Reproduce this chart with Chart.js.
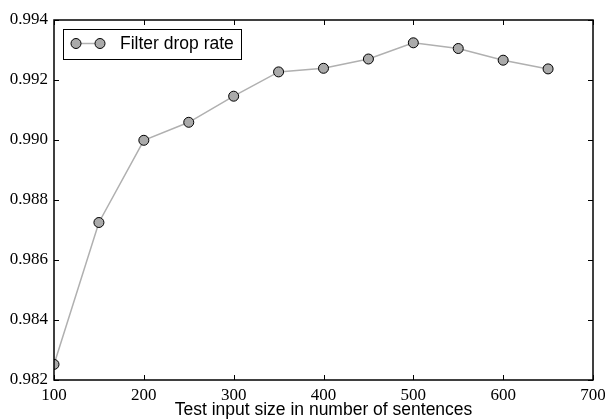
<!DOCTYPE html>
<html>
<head>
<meta charset="utf-8">
<script src="https://cdn.jsdelivr.net/npm/chart.js@4.4.0/dist/chart.umd.min.js"></script>
<style>
	html, body { margin: 0; padding: 0; background: #fff; }
	#wrap { width: 605px; height: 419px; }
</style>
</head>
<body>
<div id="wrap"><canvas id="chart"></canvas></div>
<script>
const sizes = [100, 150, 200, 250, 300, 350, 400, 450, 500, 550, 600, 650];
const dropRate = [0.98252, 0.98725, 0.98999, 0.99059, 0.99146, 0.99227, 0.99239, 0.99270, 0.99324, 0.99305, 0.99266, 0.99237];
const seriesLabel = 'Filter drop rate';
const xTitle = 'Test input size in number of sentences';

const lineGray = '#b0b0b0';
const markerGray = '#aaaaaa';

// frame, inward ticks on all four sides, legend box in the upper left
const framePlugin = {
	id: 'frame',
	afterDraw(chart) {
		const {ctx, chartArea: a, scales} = chart;
		ctx.save();
		ctx.strokeStyle = '#000';
		ctx.lineWidth = 1;
		ctx.beginPath();
		scales.x.ticks.forEach(t => {
			const px = Math.round(scales.x.getPixelForValue(t.value)) + 0.5;
			ctx.moveTo(px, a.bottom); ctx.lineTo(px, a.bottom - 5);
			ctx.moveTo(px, a.top); ctx.lineTo(px, a.top + 5);
		});
		scales.y.ticks.forEach(t => {
			const py = Math.round(scales.y.getPixelForValue(t.value)) + 0.5;
			ctx.moveTo(a.left, py); ctx.lineTo(a.left + 5, py);
			ctx.moveTo(a.right, py); ctx.lineTo(a.right - 5, py);
		});
		ctx.stroke();
		ctx.lineWidth = 1.5;
		ctx.strokeRect(a.left, a.top, a.right - a.left, a.bottom - a.top);

		// legend
		const lx = a.left + 9, ly = a.top + 9, lw = 178, lh = 30;
		ctx.fillStyle = '#fff';
		ctx.fillRect(lx, ly, lw, lh);
		ctx.lineWidth = 1;
		ctx.strokeRect(lx + 0.5, ly + 0.5, lw, lh);
		const cy = ly + 14.5;
		ctx.strokeStyle = lineGray;
		ctx.lineWidth = 1.5;
		ctx.beginPath();
		ctx.moveTo(lx + 13, cy); ctx.lineTo(lx + 37, cy);
		ctx.stroke();
		[lx + 13, lx + 37].forEach(cx => {
			ctx.beginPath();
			ctx.arc(cx, cy, 5, 0, Math.PI * 2);
			ctx.fillStyle = markerGray;
			ctx.fill();
			ctx.strokeStyle = '#000';
			ctx.lineWidth = 1;
			ctx.stroke();
		});
		ctx.fillStyle = '#000';
		ctx.font = '17.5px "Liberation Sans", Arial, sans-serif';
		ctx.textBaseline = 'middle';
		ctx.fillText(seriesLabel, lx + 57, cy + 1);
		ctx.restore();
	}
};

new Chart(document.getElementById('chart'), {
	type: 'line',
	data: {
		datasets: [{
			label: seriesLabel,
			data: sizes.map((s, i) => ({x: s, y: dropRate[i]})),
			borderColor: lineGray,
			borderWidth: 1.5,
			pointRadius: 5,
			pointBackgroundColor: markerGray,
			pointBorderColor: '#000',
			pointBorderWidth: 1,
			tension: 0,
			clip: 0
		}]
	},
	options: {
		responsive: true,
		maintainAspectRatio: false,
		animation: false,
		layout: {padding: {left: 0, right: 12, top: 20, bottom: 0}},
		plugins: {legend: {display: false}, tooltip: {enabled: false}},
		scales: {
			x: {
				type: 'linear',
				min: 100,
				max: 700,
				grid: {display: false, drawTicks: false},
				border: {display: false},
				ticks: {
					stepSize: 100,
					padding: 5,
					color: '#000',
					font: {family: '"Liberation Serif", serif', size: 17}
				},
				title: {
					display: true,
					text: xTitle,
					color: '#000',
					padding: {top: 0, bottom: 0},
					font: {family: '"Liberation Sans", Arial, sans-serif', size: 17.5, lineHeight: 1}
				},
				afterFit(scale) {
					scale.height = 39;
					scale.paddingLeft = 0;
					scale.paddingRight = 0;
				}
			},
			y: {
				min: 0.982,
				max: 0.994,
				grid: {display: false, drawTicks: false},
				border: {display: false},
				ticks: {
					stepSize: 0.002,
					padding: 6,
					color: '#000',
					font: {family: '"Liberation Serif", serif', size: 17},
					callback: v => v.toFixed(3)
				},
				afterFit(scale) {
					scale.width = 54;
					scale.paddingTop = 0;
					scale.paddingBottom = 0;
				}
			}
		}
	},
	plugins: [framePlugin]
});
</script>
</body>
</html>
